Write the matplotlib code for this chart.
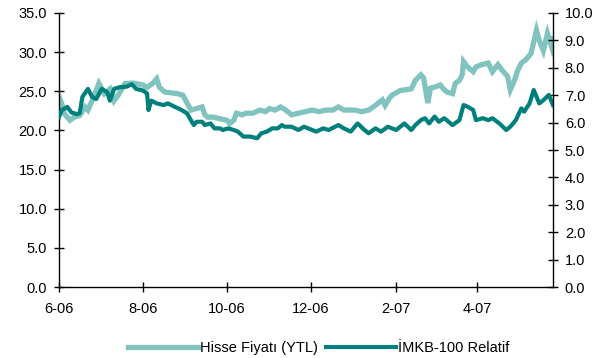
import pandas as pd
import matplotlib.pyplot as plt
import matplotlib.dates as mdates
from matplotlib.ticker import FuncFormatter

plt.rcParams['font.family'] = ['Liberation Sans', 'DejaVu Sans']

# Hisse fiyatı (sol eksen, YTL)
hisse_tarih = [
    "2006-06-01", "2006-06-03", "2006-06-05", "2006-06-09", "2006-06-12", "2006-06-16",
    "2006-06-20", "2006-06-22", "2006-06-25", "2006-06-30", "2006-07-04", "2006-07-08",
    "2006-07-11", "2006-07-14", "2006-07-19", "2006-07-25", "2006-08-01", "2006-08-04",
    "2006-08-08", "2006-08-11", "2006-08-13", "2006-08-17", "2006-08-26", "2006-08-30",
    "2006-09-03", "2006-09-05", "2006-09-09", "2006-09-13", "2006-09-15", "2006-09-17",
    "2006-09-21", "2006-09-26", "2006-10-01", "2006-10-03", "2006-10-06", "2006-10-08",
    "2006-10-12", "2006-10-15", "2006-10-20", "2006-10-25", "2006-10-29", "2006-11-01",
    "2006-11-05", "2006-11-09", "2006-11-12", "2006-11-17", "2006-11-22", "2006-11-27",
    "2006-12-02", "2006-12-07", "2006-12-12", "2006-12-17", "2006-12-21", "2006-12-25",
    "2006-12-30", "2007-01-02", "2007-01-07", "2007-01-12", "2007-01-17", "2007-01-19",
    "2007-01-22", "2007-01-24", "2007-01-27", "2007-01-29", "2007-02-04", "2007-02-12",
    "2007-02-15", "2007-02-19", "2007-02-21", "2007-02-24", "2007-02-26", "2007-03-02",
    "2007-03-05", "2007-03-08", "2007-03-10", "2007-03-14", "2007-03-16", "2007-03-19",
    "2007-03-21", "2007-03-22", "2007-03-25", "2007-03-29", "2007-03-31", "2007-04-04",
    "2007-04-09", "2007-04-12", "2007-04-16", "2007-04-19", "2007-04-23", "2007-04-25",
    "2007-04-28", "2007-04-30", "2007-05-03", "2007-05-06", "2007-05-10", "2007-05-14",
    "2007-05-16", "2007-05-19", "2007-05-22", "2007-05-25", "2007-05-26",
]
hisse_fiyat = [
    24.3, 23.4, 22.1, 21.3, 21.7, 21.9,
    23.0, 22.6, 23.8, 26.0, 24.7, 25.3,
    23.8, 24.5, 26.0, 26.05, 25.8, 25.5,
    26.0, 26.6, 25.5, 24.9, 24.7, 24.5,
    23.2, 22.6, 22.8, 23.0, 22.0, 21.7,
    21.7, 21.5, 21.3, 20.9, 21.3, 22.2,
    22.0, 22.2, 22.2, 22.6, 22.4, 22.8,
    22.6, 23.0, 22.7, 22.0, 22.2, 22.4,
    22.6, 22.4, 22.6, 22.6, 23.0, 22.6,
    22.6, 22.6, 22.4, 22.6, 23.2, 23.5,
    23.9, 23.2, 24.1, 24.5, 25.1, 25.3,
    26.4, 27.1, 26.7, 23.5, 25.4, 25.6,
    25.8, 25.2, 24.9, 24.7, 26.0, 26.4,
    27.1, 28.8, 28.1, 27.5, 28.1, 28.4,
    28.6, 27.5, 28.4, 27.7, 26.9, 25.2,
    26.4, 27.5, 28.6, 29.0, 29.8, 32.8,
    31.5, 30.2, 32.4, 30.7, 31.7,
]

# İMKB-100 relatif (sağ eksen)
imkb_tarih = [
    "2006-06-01", "2006-06-03", "2006-06-07", "2006-06-10", "2006-06-14", "2006-06-16",
    "2006-06-18", "2006-06-22", "2006-06-25", "2006-06-28", "2006-07-02", "2006-07-06",
    "2006-07-08", "2006-07-11", "2006-07-15", "2006-07-20", "2006-07-24", "2006-07-27",
    "2006-08-01", "2006-08-04", "2006-08-05", "2006-08-07", "2006-08-11", "2006-08-16",
    "2006-08-19", "2006-08-24", "2006-08-29", "2006-09-02", "2006-09-04", "2006-09-07",
    "2006-09-09", "2006-09-13", "2006-09-15", "2006-09-19", "2006-09-22", "2006-09-26",
    "2006-09-28", "2006-10-02", "2006-10-06", "2006-10-09", "2006-10-13", "2006-10-18",
    "2006-10-23", "2006-10-26", "2006-10-30", "2006-11-03", "2006-11-07", "2006-11-10",
    "2006-11-12", "2006-11-17", "2006-11-22", "2006-11-26", "2006-11-29", "2006-12-05",
    "2006-12-10", "2006-12-14", "2006-12-21", "2006-12-25", "2006-12-30", "2007-01-04",
    "2007-01-09", "2007-01-12", "2007-01-17", "2007-01-21", "2007-01-26", "2007-02-01",
    "2007-02-07", "2007-02-12", "2007-02-15", "2007-02-19", "2007-02-22", "2007-02-25",
    "2007-03-01", "2007-03-04", "2007-03-08", "2007-03-14", "2007-03-19", "2007-03-22",
    "2007-03-25", "2007-03-29", "2007-03-31", "2007-04-05", "2007-04-09", "2007-04-12",
    "2007-04-17", "2007-04-22", "2007-04-25", "2007-04-29", "2007-05-03", "2007-05-05",
    "2007-05-09", "2007-05-12", "2007-05-16", "2007-05-19", "2007-05-23", "2007-05-26",
]
imkb_relatif = [
    6.20, 6.46, 6.57, 6.37, 6.31, 6.34,
    6.94, 7.23, 6.94, 6.86, 7.23, 7.11,
    6.80, 7.23, 7.29, 7.31, 7.40, 7.23,
    7.17, 7.06, 6.46, 6.80, 6.70, 6.64,
    6.70, 6.58, 6.46, 6.34, 6.16, 5.91,
    6.03, 6.03, 5.91, 5.97, 5.79, 5.79,
    5.73, 5.79, 5.73, 5.67, 5.49, 5.49,
    5.43, 5.61, 5.67, 5.79, 5.79, 5.91,
    5.85, 5.85, 5.73, 5.85, 5.79, 5.67,
    5.79, 5.73, 5.91, 5.79, 5.67, 5.97,
    5.73, 5.61, 5.79, 5.67, 5.85, 5.73,
    5.97, 5.73, 5.91, 6.09, 6.16, 5.97,
    6.22, 6.03, 6.16, 5.91, 6.09, 6.64,
    6.58, 6.46, 6.09, 6.16, 6.09, 6.16,
    5.97, 5.73, 5.85, 6.09, 6.52, 6.40,
    6.70, 7.19, 6.70, 6.82, 7.01, 6.64,
]

x_ticks = ["2006-06-01", "2006-08-01", "2006-10-01", "2006-12-01", "2007-02-01", "2007-04-01"]

acik = '#80c3bf'
koyu = '#00807c'

fig = plt.figure(figsize=(6.06, 3.58), dpi=100)
ax = fig.add_axes([0.0974, 0.1983, 0.8151, 0.7654])
ax2 = ax.twinx()

ax.plot(pd.to_datetime(hisse_tarih), hisse_fiyat, color=acik, lw=3.8,
        solid_joinstyle='miter', label='Hisse Fiyatı (YTL)')
ax2.plot(pd.to_datetime(imkb_tarih), imkb_relatif, color=koyu, lw=3.0,
         solid_joinstyle='round', label='İMKB-100 Relatif')

ax.set_xlim(pd.Timestamp("2006-06-01"), pd.Timestamp("2007-05-26"))
ax.set_ylim(0, 35)
ax2.set_ylim(0, 10)
ax.set_yticks([i * 5 for i in range(8)])
ax2.set_yticks(range(11))
ax.yaxis.set_major_formatter(FuncFormatter(lambda v, p: f"{v:.1f}"))
ax2.yaxis.set_major_formatter(FuncFormatter(lambda v, p: f"{v:.1f}"))

ax.set_xticks(pd.to_datetime(x_ticks))
ax.xaxis.set_major_formatter(FuncFormatter(
    lambda v, p: f"{mdates.num2date(v).month}-{mdates.num2date(v):%y}"))

for a in (ax, ax2):
    a.spines['top'].set_visible(False)
    for s in a.spines.values():
        s.set_linewidth(1.0)
ax.spines['right'].set_visible(False)
ax2.spines['left'].set_visible(False)
ax2.spines['bottom'].set_visible(False)

ax.tick_params(axis='y', direction='inout', length=7, width=1, labelsize=10.5, pad=5)
ax.tick_params(axis='x', direction='inout', length=7, width=1, labelsize=10.5, pad=7)
ax2.tick_params(axis='y', direction='inout', length=7, width=1, labelsize=10.5, pad=5)

h1, l1 = ax.get_legend_handles_labels()
h2, l2 = ax2.get_legend_handles_labels()
fig.legend(h1 + h2, l1 + l2, loc='center', bbox_to_anchor=(0.526, 0.028), ncol=2,
           frameon=False, fontsize=10.5, handlelength=4.8, handletextpad=0.1,
           columnspacing=0.6)

fig.savefig('out.png', dpi=100)
